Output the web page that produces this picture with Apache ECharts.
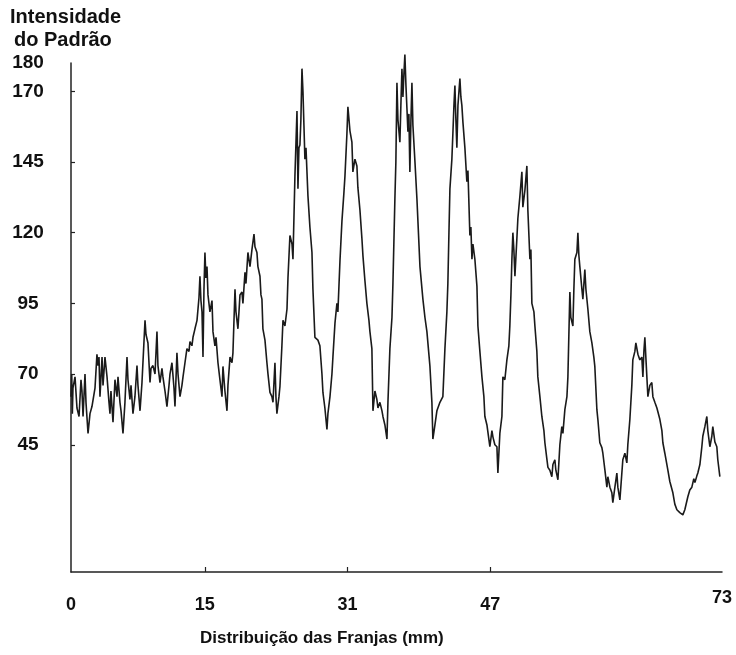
<!DOCTYPE html>
<html>
<head>
<meta charset="utf-8">
<script src="https://cdn.jsdelivr.net/npm/echarts@6/dist/echarts.min.js"></script>
<style>
  html, body { margin: 0; padding: 0; background: #fff; }
  #chart { width: 736px; height: 655px; }
</style>
</head>
<body>
<div id="chart"></div>
<script>
// eixo x: posição em mm, eixo y: intensidade
const xTicks = [15, 31, 47];
const xLabels = [0, 15, 31, 47, 73];
const yTicks = [45, 70, 95, 120, 145, 170];
const yLabels = [45, 70, 95, 120, 145, 170, 180];

// trecho inicial (ruído de fundo)
const segBase = [
  [0.00,62],[0.08,70],[0.15,56],[0.22,65],[0.45,69],[0.67,58],[0.90,55],[1.12,68],[1.23,64],[1.35,55],
  [1.57,70],[1.68,60],[1.91,49],[2.13,56],[2.35,58.5],[2.69,65],[2.91,77],[3.03,73],[3.14,76],[3.25,62],
  [3.48,76],[3.59,66],[3.81,76],[4.04,69],[4.26,60],[4.37,56],[4.48,64],[4.71,53],[4.93,68],[5.16,62],
  [5.27,69],[5.49,60],[5.61,57],[5.83,49],[6.05,60],[6.28,76],[6.39,68],[6.61,61],[6.73,66],[6.95,56],
  [7.17,62],[7.40,73],[7.51,66],[7.74,57],[7.96,67],[8.30,89],[8.41,84],[8.63,81],[8.86,67],[8.97,72],
  [9.19,73],[9.42,70],[9.64,85],[9.75,73],[9.98,67],[10.20,72],[10.31,69],[10.54,64],[10.76,58.5],[10.99,66],
  [11.10,70],[11.32,74],[11.55,65],[11.66,58.5],[11.88,77.5],[12.00,70],[12.22,62],[12.44,66],[12.56,69],[12.78,74],
  [13.00,79],[13.23,78],[13.34,81.5],[13.56,80],[13.68,83],[13.90,86],[14.13,89],[14.35,97]
];

// franjas 1 a 3
const segFringeA = [
  [14.46,104.6],[14.57,96],[14.69,92],[14.80,76],[14.91,100],[15.02,113],[15.13,104],[15.25,108],[15.36,98],[15.58,92],
  [15.81,96],[15.92,85],[16.14,80],[16.26,83],[16.48,74],[16.70,68],[16.93,62],[17.04,72.7],[17.26,64],[17.49,57],
  [17.60,66],[17.83,76],[18.05,74],[18.16,77.5],[18.39,100],[18.50,92],[18.72,86],[18.95,98],[19.17,99],[19.28,95],
  [19.51,106],[19.62,102],[19.84,113],[20.07,108],[20.29,114],[20.52,119.5],[20.63,115],[20.85,113],[20.96,108],[21.19,104.6],
  [21.30,98],[21.41,96.5],[21.52,86],[21.75,82],[21.97,74],[22.09,70],[22.31,63.5],[22.53,62],[22.65,60],[22.87,74],
  [22.98,62],[23.09,56],[23.32,62],[23.43,65.6],[23.65,80],[23.77,89],[23.99,87],[24.22,93],[24.33,104],[24.55,119],
  [24.78,116],[24.89,110.6],[25.11,140],[25.34,163],[25.45,135.5],[25.56,150],[25.67,151],[25.78,160],[25.90,178],[26.01,170],
  [26.12,158],[26.23,146],[26.35,150],[26.57,133],[26.79,122],[27.02,113],[27.13,100],[27.35,83],[27.69,82],[27.91,80],
  [28.14,70],[28.25,63.5],[28.47,58],[28.70,50.4]
];

// franjas 4 e 5
const segFringeB = [
  [28.81,56],[29.04,62],[29.26,70],[29.37,76],[29.60,88],[29.82,95],[29.93,92],[30.16,110],[30.38,124],[30.60,134],
  [30.72,140],[30.94,155],[31.05,164.5],[31.28,156],[31.50,152],[31.61,141.5],[31.84,146],[32.06,143.6],[32.17,136],[32.40,128],
  [32.62,118],[32.74,111.7],[32.96,103],[33.18,95],[33.41,89],[33.52,85],[33.74,79],[33.86,57],[34.08,64],[34.30,61],
  [34.42,58],[34.64,60],[34.87,57],[34.98,55],[35.20,52],[35.43,47],[35.54,60],[35.76,79],[35.99,90],[36.10,102],
  [36.32,132],[36.43,145],[36.55,173],[36.66,160],[36.88,152],[36.99,165],[37.11,178],[37.22,168],[37.33,176],[37.44,183],
  [37.56,172],[37.67,164],[37.78,155.7],[37.89,162],[38.00,141.5],[38.12,160],[38.23,173],[38.34,158],[38.57,145],[38.79,132],
  [39.13,108],[39.46,96.5],[39.69,90],[39.91,85],[40.25,72.7],[40.47,60],[40.58,47]
];

// franjas 6 e 7
const segFringeC = [
  [40.81,52],[41.03,57],[41.37,60],[41.70,62],[41.93,79],[42.15,92],[42.26,102],[42.38,120],[42.49,135.5],[42.71,146],
  [42.83,155.7],[42.94,165],[43.05,172],[43.16,160],[43.27,150],[43.39,165],[43.61,174.5],[43.72,168],[43.83,165],[43.95,159],
  [44.17,150],[44.39,138],[44.51,142],[44.73,119],[44.84,122],[44.96,110.6],[45.07,116],[45.29,110.6],[45.52,101],[45.63,87],
  [45.85,78],[46.08,69],[46.30,62],[46.41,55],[46.64,52],[46.75,51.4],[46.97,44.3],[47.20,50],[47.31,47.8],[47.53,45],
  [47.76,44.3],[47.87,35],[48.09,49],[48.32,55],[48.43,69],[48.65,68],[48.88,75],[49.10,80],[49.21,87],[49.33,98],
  [49.44,110.6],[49.55,120],[49.66,114],[49.78,104.6],[50.00,118],[50.11,125],[50.34,133],[50.56,141.5],[50.67,129],[50.90,135],
  [51.12,143.6],[51.23,128],[51.46,110.6],[51.57,114],[51.68,95],[51.91,92],[52.02,87],[52.24,78],[52.35,69],[52.58,62],
  [52.80,55],[53.03,50],[53.14,45.7],[53.36,40],[53.48,37],[53.70,36],[53.92,33.7],[54.04,38],[54.26,39.7],[54.37,36],
  [54.60,32.6]
];

// franjas 8 a 10
const segFringeD = [
  [54.82,45],[55.04,51.4],[55.16,49],[55.38,57.4],[55.61,62],[55.72,69],[55.94,99],[56.05,90],[56.28,87],[56.39,100],
  [56.50,110.6],[56.73,113],[56.84,120],[56.95,112],[57.06,108],[57.29,100],[57.40,96.5],[57.62,107],[57.74,100],[57.96,93],
  [58.18,85],[58.41,81],[58.63,76],[58.74,72.7],[58.97,57.4],[59.08,54],[59.30,45.7],[59.53,44],[59.64,42],[59.87,36],
  [60.09,30],[60.20,33.7],[60.43,30],[60.65,28],[60.76,24.5],[60.99,30],[61.21,35],[61.32,30],[61.55,25.5],[61.77,35],
  [61.88,39.7],[62.11,42],[62.33,38.6],[62.44,45],[62.67,54],[62.89,66],[63.00,75],[63.23,78],[63.34,81],[63.57,77],
  [63.79,75],[64.01,76],[64.13,69],[64.24,78],[64.35,83],[64.46,76],[64.69,62],[64.91,66],[65.13,67],[65.25,62],
  [65.47,60],[65.70,58],[66.03,54],[66.26,50],[66.37,45.7],[66.59,42],[66.93,36],[67.15,32],[67.49,28],[67.71,24],
  [67.94,22],[68.27,21],[68.61,20.2],[68.83,22],[69.17,26.6],[69.39,29],[69.62,30],[69.84,33],[69.96,31.6],[70.18,34],
  [70.29,35],[70.52,38],[70.74,44.3],[70.85,48],[71.08,51.4],[71.30,55],[71.41,50],[71.64,44.3],[71.86,48],[71.97,51.4],
  [72.20,46],[72.42,44.3],[72.53,39.7],[72.76,33.7]
];

const trace = segBase.concat(segFringeA, segFringeB, segFringeC, segFringeD);

const fontFam = '"Liberation Sans", Arial, sans-serif';
const txt = { fontFamily: fontFam, fontWeight: 'bold', fontSize: 19, color: '#111' };

const chart = echarts.init(document.getElementById('chart'));
chart.setOption({
  animation: false,
  backgroundColor: '#fff',
  grid: { left: 71, right: 14, top: 63, bottom: 83 },
  xAxis: {
    type: 'value',
    min: 0,
    max: 73,
    axisLine: { lineStyle: { color: '#222', width: 1.5 } },
    axisTick: { show: true, inside: true, length: 5, customValues: xTicks, lineStyle: { color: '#222', width: 1.2 } },
    axisLabel: {
      ...txt,
      fontSize: 18,
      margin: 17,
      customValues: xLabels,
      // o 73 fica um pouco mais alto no original
      formatter: v => (v === 73 ? '{up|73}' : '{lo|' + v + '}'),
      rich: {
        up: { ...txt, fontSize: 18 },
        lo: { ...txt, fontSize: 18, padding: [7, 0, 0, 0] }
      }
    },
    splitLine: { show: false }
  },
  yAxis: {
    type: 'value',
    min: 0,
    max: 180,
    axisLine: { show: true, lineStyle: { color: '#222', width: 1.5 } },
    axisTick: { show: true, inside: true, length: 4, customValues: yTicks, lineStyle: { color: '#222', width: 1.2 } },
    axisLabel: { ...txt, margin: 43, align: 'center', padding: [10, 0, 0, 0], customValues: yLabels },
    splitLine: { show: false }
  },
  graphic: [
    { type: 'text', left: 10, top: 7, style: { text: 'Intensidade', font: 'bold 20px ' + fontFam, fill: '#111' } },
    { type: 'text', left: 14, top: 30, style: { text: 'do Padrão', font: 'bold 20px ' + fontFam, fill: '#111' } },
    { type: 'text', left: 200, top: 630, style: { text: 'Distribuição das Franjas (mm)', font: 'bold 17px ' + fontFam, fill: '#111' } }
  ],
  series: [{
    type: 'line',
    data: trace,
    showSymbol: false,
    clip: false,
    lineStyle: { color: '#1a1a1a', width: 1.6 }
  }]
});
</script>
</body>
</html>
